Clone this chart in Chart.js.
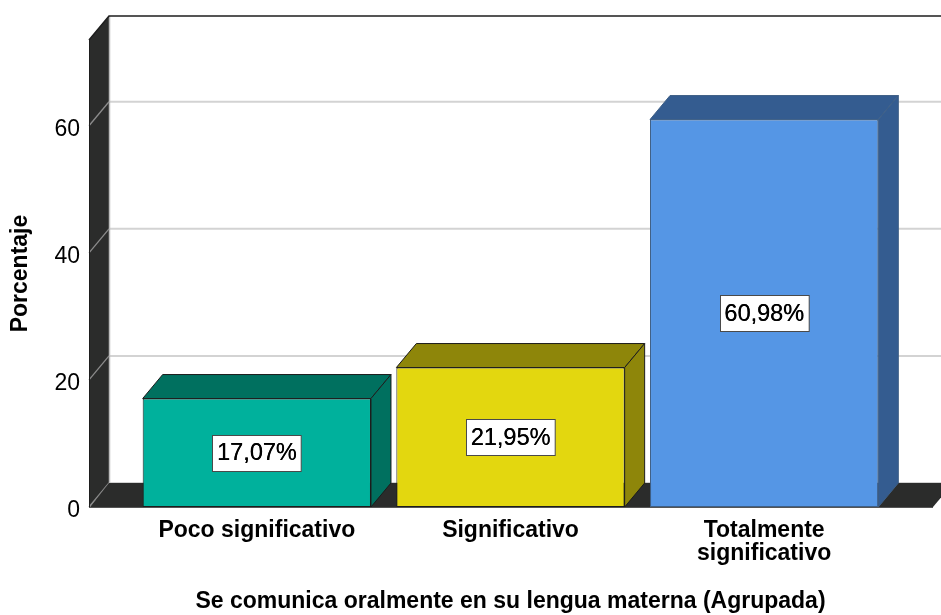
<!DOCTYPE html>
<html><head><meta charset="utf-8">
<script src="https://cdn.jsdelivr.net/npm/chart.js@4"></script>
<style>html,body{margin:0;padding:0;background:#fff;overflow:hidden}</style>
</head><body>
<canvas id="c" width="941" height="615"></canvas>
<script>
const categories = ['Poco significativo', 'Significativo', ['Totalmente', 'significativo']];
const percentages = [17.07, 21.95, 60.98];
const yTicks = [0, 20, 40, 60];
const yMax = 73.5;
const frontColors = ['#00b19c', '#e3d70f', '#5596e5'];
const shadeColors = ['#00705f', '#8e860a', '#345c90'];
const edgeColors = ['#1c1c1c', '#1c1c1c', '#3e5f86'];
const xTitle = 'Se comunica oralmente en su lengua materna (Agrupada)';
const yTitle = 'Porcentaje';

const DX = 20, DY = -24, EXT_L = 41, EXT_R = 42;
const FONT = '"Liberation Sans", Arial, sans-serif';

function poly(ctx, pts, fill, stroke, lw) {
  ctx.beginPath();
  ctx.moveTo(pts[0][0], pts[0][1]);
  for (let i = 1; i < pts.length; i++) ctx.lineTo(pts[i][0], pts[i][1]);
  ctx.closePath();
  if (fill) { ctx.fillStyle = fill; ctx.fill(); }
  if (stroke) { ctx.strokeStyle = stroke; ctx.lineWidth = lw || 1; ctx.stroke(); }
}

const threeD = {
  id: 'threeD',
  beforeDatasetsDraw(chart) {
    const {ctx, chartArea: a, scales: {y}} = chart;
    const fl = a.left - EXT_L, fr = a.right + EXT_R;
    const y0 = y.getPixelForValue(0), yt = a.top;
    ctx.save();
    ctx.lineWidth = 2; ctx.strokeStyle = '#d3d3d3';
    yTicks.forEach(v => {
      const py = y.getPixelForValue(v) + DY;
      ctx.beginPath(); ctx.moveTo(fl + DX, py); ctx.lineTo(fr + DX, py); ctx.stroke();
    });
    poly(ctx, [[fl, yt], [fl + DX, yt + DY], [fl + DX, y0 + DY], [fl, y0]], '#2b2c2b', null);
    ctx.strokeStyle = '#bdbdbd'; ctx.lineWidth = 1.5;
    ctx.beginPath(); ctx.moveTo(fl + DX + 0.5, yt + DY); ctx.lineTo(fl + DX + 0.5, y0 + DY); ctx.stroke();
    ctx.strokeStyle = '#8c8c8c'; ctx.lineWidth = 1.3;
    yTicks.forEach(v => {
      const py = y.getPixelForValue(v);
      ctx.beginPath(); ctx.moveTo(fl, py); ctx.lineTo(fl + DX, py + DY); ctx.stroke();
    });
    poly(ctx, [[fl + DX, y0 + DY], [fr + DX, y0 + DY], [fr, y0], [fl + 1, y0]], '#2b2c2b', null);
    ctx.strokeStyle = '#555'; ctx.lineWidth = 1;
    ctx.beginPath(); ctx.moveTo(fl, y0 + 0.5); ctx.lineTo(fr, y0 + 0.5); ctx.stroke();
    ctx.strokeStyle = '#1e1e1e'; ctx.lineWidth = 1.5;
    ctx.beginPath(); ctx.moveTo(fl, yt); ctx.lineTo(fl + DX, yt + DY); ctx.lineTo(fr + DX, yt + DY); ctx.stroke();
    ctx.strokeStyle = '#1e1e1e'; ctx.lineWidth = 1;
    ctx.beginPath(); ctx.moveTo(fl + 0.5, yt); ctx.lineTo(fl + 0.5, y0); ctx.stroke();
    const meta = chart.getDatasetMeta(0);
    meta.data.forEach((bar, i) => {
      const p = bar.getProps(['x', 'y', 'width', 'base'], true);
      const L = p.x - p.width / 2, R = p.x + p.width / 2, top = p.y, base = p.base;
      poly(ctx, [[L, top], [R, top], [R + DX, top + DY], [L + DX, top + DY]], shadeColors[i], edgeColors[i], 1);
      poly(ctx, [[R, top], [R + DX, top + DY], [R + DX, base + DY], [R, base]], shadeColors[i], edgeColors[i], 1);
    });
    ctx.restore();
  },
  afterDatasetsDraw(chart) {
    const {ctx} = chart;
    const meta = chart.getDatasetMeta(0);
    ctx.save();
    ctx.font = '23.5px ' + FONT;
    ctx.textAlign = 'center';
    ctx.textBaseline = 'middle';
    meta.data.forEach((bar, i) => {
      const p = bar.getProps(['x', 'y', 'base'], true);
      const txt = percentages[i].toFixed(2).replace('.', ',') + '%';
      const w = ctx.measureText(txt).width + 9, h = 36;
      const cx = p.x, cy = (p.y + p.base) / 2;
      const bx = Math.round(cx - w / 2) + 0.5, by = Math.round(cy - h / 2) + 0.5;
      ctx.fillStyle = '#fff'; ctx.fillRect(bx, by, w, h);
      ctx.strokeStyle = '#4a4a4a'; ctx.lineWidth = 1; ctx.strokeRect(bx, by, w, h);
      ctx.fillStyle = '#000';
      ctx.fillText(txt, cx, cy + 1);
      ctx.fillText(txt, cx + 0.3, cy + 1);
    });
    ctx.restore();
  }
};

new Chart(document.getElementById('c'), {
  type: 'bar',
  data: {
    labels: categories,
    datasets: [{
      data: percentages,
      backgroundColor: frontColors,
      borderColor: edgeColors,
      borderWidth: 1,
      borderSkipped: false,
      barPercentage: 0.9,
      categoryPercentage: 1.0
    }]
  },
  options: {
    responsive: false,
    animation: false,
    devicePixelRatio: 1,
    layout: {padding: {top: 40, right: 50, left: 0, bottom: 0}},
    plugins: {legend: {display: false}, tooltip: {enabled: false}},
    scales: {
      x: {
        offset: true,
        grid: {display: false, drawTicks: false},
        border: {display: false},
        ticks: {font: {family: FONT, size: 23, weight: 'bold', lineHeight: 1.0}, color: '#000', padding: 12, maxRotation: 0, autoSkip: false},
        title: {display: true, text: xTitle, font: {family: FONT, size: 23, weight: 'bold'}, color: '#000', padding: {top: 0, bottom: 0}},
        afterFit(s) { s.height = 108; s.paddingLeft = 0; s.paddingRight = 0; }
      },
      y: {
        min: 0, max: yMax,
        afterBuildTicks(s) { s.ticks = yTicks.map(v => ({value: v})); },
        grid: {display: false, drawTicks: false},
        border: {display: false},
        ticks: {font: {family: FONT, size: 23}, color: '#000', padding: 50, labelOffset: 4},
        title: {display: true, text: yTitle, font: {family: FONT, size: 23, weight: 'bold'}, color: '#000', padding: {top: 7, bottom: 0}},
        afterFit(s) { s.width = 130; s.paddingTop = 0; s.paddingBottom = 0; }
      }
    }
  },
  plugins: [threeD]
});
</script>
</body></html>
